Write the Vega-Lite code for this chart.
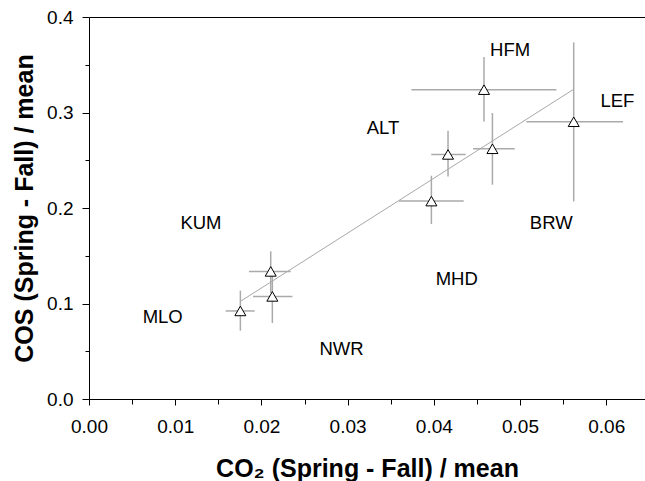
{
  "$schema": "https://vega.github.io/schema/vega-lite/v6.json",
  "width": 556,
  "height": 382,
  "autosize": {"type": "none"},
  "padding": {"left": 89, "top": 17, "right": 0, "bottom": 82},
  "background": "white",
  "config": {
    "view": {"stroke": null},
    "font": "Liberation Sans",
    "axis": {"grid": false, "domainColor": "black", "tickColor": "black", "labelColor": "black", "titleColor": "black", "labelFont": "Liberation Sans", "titleFont": "Liberation Sans", "domainWidth": 1, "tickWidth": 1}
  },
  "datasets": {
    "pts": [
      {"x": 0.01756, "y": 0.0922, "xlo": 0.01586, "xhi": 0.01922, "ylo": 0.0715, "yhi": 0.1134},
      {"x": 0.02108, "y": 0.1336, "xlo": 0.01856, "xhi": 0.0234, "ylo": 0.111, "yhi": 0.1546},
      {"x": 0.02127, "y": 0.1074, "xlo": 0.01903, "xhi": 0.0236, "ylo": 0.0796, "yhi": 0.1312},
      {"x": 0.03972, "y": 0.2072, "xlo": 0.03596, "xhi": 0.04347, "ylo": 0.1832, "yhi": 0.2338},
      {"x": 0.04165, "y": 0.2561, "xlo": 0.0397, "xhi": 0.0437, "ylo": 0.2331, "yhi": 0.2809},
      {"x": 0.0468, "y": 0.262, "xlo": 0.04455, "xhi": 0.04939, "ylo": 0.2244, "yhi": 0.2995},
      {"x": 0.04582, "y": 0.3239, "xlo": 0.0374, "xhi": 0.05422, "ylo": 0.2907, "yhi": 0.3581},
      {"x": 0.05623, "y": 0.2903, "xlo": 0.05074, "xhi": 0.06195, "ylo": 0.2069, "yhi": 0.3734}
    ],
    "fit": [
      {"x": 0.01756, "y": 0.1022},
      {"x": 0.05615, "y": 0.3239}
    ],
    "labels": [
      {"station": "HFM", "x": 0.04885, "y": 0.3651},
      {"station": "LEF", "x": 0.0613, "y": 0.3117},
      {"station": "ALT", "x": 0.03411, "y": 0.2838},
      {"station": "KUM", "x": 0.01299, "y": 0.1845},
      {"station": "BRW", "x": 0.05362, "y": 0.1846},
      {"station": "MHD", "x": 0.04266, "y": 0.1258},
      {"station": "MLO", "x": 0.00855, "y": 0.0859},
      {"station": "NWR", "x": 0.0293, "y": 0.052}
    ]
  },
  "layer": [
    {
      "data": {"name": "pts"},
      "mark": {"type": "rule", "color": "#aaaaaa", "strokeWidth": 1.5},
      "encoding": {
        "x": {"field": "xlo", "type": "quantitative", "scale": {"domain": [0, 0.0645], "nice": false, "zero": false},
          "axis": {"orient": "bottom", "values": [0, 0.01, 0.02, 0.03, 0.04, 0.05, 0.06], "format": ".2f", "tickSize": 6, "labelPadding": 12, "labelFontSize": 19, "labelFlush": false, "labelOverlap": false,
            "title": "CO₂ (Spring - Fall) / mean", "titleFontSize": 25, "titleFontWeight": "bold", "titleY": 77, "titleBaseline": "alphabetic"}},
        "x2": {"field": "xhi"},
        "y": {"field": "y", "type": "quantitative", "scale": {"domain": [0, 0.4], "nice": false, "zero": false},
          "axis": {"orient": "left", "values": [0, 0.1, 0.2, 0.3, 0.4], "format": ".1f", "tickSize": 7, "labelPadding": 9, "labelFontSize": 19, "labelOverlap": false,
            "title": "COS (Spring - Fall) / mean", "titleFontSize": 25, "titleFontWeight": "bold", "titleX": -57, "titleY": 191, "titleAngle": -90, "titleBaseline": "alphabetic", "titleAlign": "center"}}
      }
    },
    {
      "data": {"name": "pts"},
      "mark": {"type": "rule", "color": "#aaaaaa", "strokeWidth": 1.5},
      "encoding": {
        "x": {"field": "x", "type": "quantitative", "scale": {"domain": [0, 0.0645], "nice": false, "zero": false},
          "axis": {"orient": "bottom", "values": [0.005, 0.015, 0.025, 0.035, 0.045, 0.055], "labels": false, "domain": false, "tickSize": 5, "title": null}},
        "y": {"field": "ylo", "type": "quantitative", "scale": {"domain": [0, 0.4], "nice": false, "zero": false},
          "axis": {"orient": "left", "values": [0.05, 0.15, 0.25, 0.35], "labels": false, "domain": false, "tickSize": 4, "title": null}},
        "y2": {"field": "yhi"}
      }
    },
    {
      "data": {"name": "fit"},
      "mark": {"type": "line", "color": "#a8a8a8", "strokeWidth": 1},
      "encoding": {
        "x": {"field": "x", "type": "quantitative", "scale": {"domain": [0, 0.0645], "nice": false, "zero": false},
          "axis": {"orient": "top", "ticks": false, "labels": false, "domain": true, "title": null}},
        "y": {"field": "y", "type": "quantitative", "scale": {"domain": [0, 0.4], "nice": false, "zero": false}, "axis": null}
      }
    },
    {
      "data": {"name": "pts"},
      "mark": {"type": "point", "shape": "triangle-up", "filled": true, "fill": "white", "stroke": "black", "strokeWidth": 1, "size": 121, "opacity": 1},
      "encoding": {
        "x": {"field": "x", "type": "quantitative", "scale": {"domain": [0, 0.0645], "nice": false, "zero": false}, "axis": null},
        "y": {"field": "y", "type": "quantitative", "scale": {"domain": [0, 0.4], "nice": false, "zero": false}, "axis": null}
      }
    },
    {
      "data": {"name": "labels"},
      "mark": {"type": "text", "font": "Liberation Sans", "fontSize": 18.5, "color": "black", "align": "center", "baseline": "middle"},
      "encoding": {
        "x": {"field": "x", "type": "quantitative", "scale": {"domain": [0, 0.0645], "nice": false, "zero": false}, "axis": null},
        "y": {"field": "y", "type": "quantitative", "scale": {"domain": [0, 0.4], "nice": false, "zero": false}, "axis": null},
        "text": {"field": "station"}
      }
    }
  ],
  "resolve": {"axis": {"x": "independent", "y": "independent"}}
}
